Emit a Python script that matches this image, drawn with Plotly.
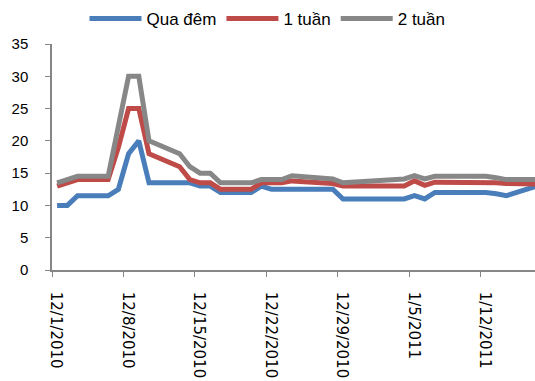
import pandas as pd
import plotly.graph_objects as go

dates = ["2010-12-01", "2010-12-02", "2010-12-03", "2010-12-06", "2010-12-07", "2010-12-08",
         "2010-12-09", "2010-12-10", "2010-12-13", "2010-12-14", "2010-12-15", "2010-12-16",
         "2010-12-17", "2010-12-20", "2010-12-21", "2010-12-22", "2010-12-23", "2010-12-24",
         "2010-12-27", "2010-12-28", "2010-12-29", "2010-12-30", "2010-12-31", "2011-01-03",
         "2011-01-04", "2011-01-05", "2011-01-06", "2011-01-07", "2011-01-10", "2011-01-11",
         "2011-01-12", "2011-01-13", "2011-01-14", "2011-01-17"]

qua_dem = [10, 10, 11.5, 11.5, 12.5, 18, 20, 13.5, 13.5, 13.5, 13, 13,
           12, 12, 13, 12.5, 12.5, 12.5, 12.5, 12.5, 11, 11, 11, 11,
           11, 11.5, 11, 12, 12, 12, 12, 11.8, 11.5, 13]
tuan_1 = [13, 13.5, 14, 14, 19, 25, 25, 18, 16, 14, 13.5, 13.5,
          12.5, 12.5, 13.5, 13.5, 13.5, 13.8, 13.5, 13.4, 13, 13, 13, 13,
          13, 13.8, 13.1, 13.6, 13.6, 13.6, 13.6, 13.5, 13.4, 13.3]
tuan_2 = [13.5, 14, 14.5, 14.5, 22, 30, 30, 20, 18, 16, 15, 15,
          13.5, 13.5, 14, 14, 14, 14.6, 14.3, 14.1, 13.5, 13.6, 13.7, 13.9,
          14.1, 14.6, 14.1, 14.5, 14.5, 14.5, 14.5, 14.3, 14, 14]

series_names = ["Qua đêm", "1 tuần", "2 tuần"]
colors = ["#4A7EBB", "#BE4B48", "#878787"]

tick_dates = ["2010-12-01", "2010-12-08", "2010-12-15", "2010-12-22", "2010-12-29",
              "2011-01-05", "2011-01-12"]
tick_labels = ["12/1/2010", "12/8/2010", "12/15/2010", "12/22/2010", "12/29/2010",
               "1/5/2011", "1/12/2011"]

# points sit in the middle of each day slot (Excel date axis, between tick marks)
x = pd.to_datetime(dates) + pd.Timedelta(hours=12)

fig = go.Figure()
for name, vals, c in zip(series_names, [qua_dem, tuan_1, tuan_2], colors):
    fig.add_trace(go.Scatter(x=x, y=vals, mode="lines", name=name,
                             line=dict(color=c, width=5)))

fig.update_layout(
    width=535, height=381,
    margin=dict(l=52, r=0, t=44, b=111, autoexpand=False),
    paper_bgcolor="white", plot_bgcolor="white",
    font=dict(family="Liberation Sans", color="#000000"),
    showlegend=True,
    legend=dict(orientation="h", x=0.5, xref="container", xanchor="center",
                y=1 - 19 / 381, yref="container", yanchor="middle",
                font=dict(size=17, family="Liberation Sans"),
                itemwidth=52,
                tracegroupgap=0, bgcolor="rgba(0,0,0,0)"),
)
fig.update_xaxes(
    type="date", automargin=False,
    range=[pd.Timestamp("2010-12-01"), pd.Timestamp("2010-12-01") + pd.Timedelta(days=47.3)],
    tickmode="array", tickvals=pd.to_datetime(tick_dates), ticktext=tick_labels,
    tickangle=90, ticks="outside", ticklen=5, tickcolor="#868686",
    showline=True, linecolor="#868686", linewidth=1.5, showgrid=False, zeroline=False,
    tickfont=dict(size=15, family="DejaVu Sans", color="#000000"),
    ticklabelstandoff=12, ticklabelshift=4,
)
fig.update_yaxes(
    range=[0, 35], dtick=5, tick0=0, ticks="outside", ticklen=5, tickcolor="#868686",
    showline=True, linecolor="#868686", linewidth=1.5, showgrid=False, zeroline=False,
    automargin=False,
    tickfont=dict(size=15, family="Liberation Sans", color="#000000"),
    ticklabelstandoff=14,
)
fig.write_html("out.html", config={"displayModeBar": False},
               post_script="document.body.style.margin='0';document.body.style.overflow='hidden';")
